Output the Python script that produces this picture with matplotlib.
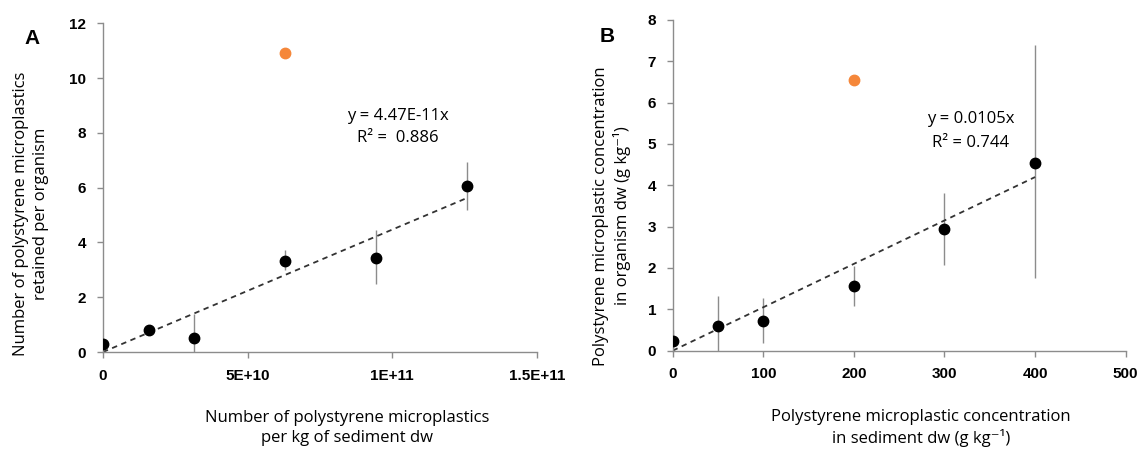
import matplotlib.pyplot as plt

# Panel A: particle number in sediment vs particles retained per organism
a_x = [0, 1.575e10, 3.15e10, 6.3e10, 9.45e10, 1.26e11]
a_y = [0.30, 0.82, 0.52, 3.33, 3.45, 6.07]
a_err_lo = [0.30, 0.0, 0.52, 0.35, 0.98, 0.89]
a_err_hi = [0.0, 0.0, 0.86, 0.41, 1.00, 0.87]
a_out_x = [6.3e10]
a_out_y = [10.9]
a_slope = 4.47e-11

# Panel B: sediment concentration vs organism concentration (g/kg)
b_x = [0, 50, 100, 200, 300, 400]
b_y = [0.23, 0.60, 0.72, 1.56, 2.95, 4.55]
b_err_lo = [0.23, 0.60, 0.54, 0.48, 0.87, 2.80]
b_err_hi = [0.27, 0.72, 0.56, 0.49, 0.86, 2.85]
b_out_x = [200]
b_out_y = [6.54]
b_slope = 0.0105

label_font = ['Open Sans', 'DejaVu Sans']
tick_font = 'Liberation Sans'
gray = '#8c8c8c'
orange = '#f5873a'

fig = plt.figure(figsize=(11.39, 4.49), dpi=100)
axA = fig.add_axes([0.0904, 0.216, 0.381, 0.732])
axB = fig.add_axes([0.5906, 0.219, 0.3977, 0.7365])


def style(ax):
    for s in ['top', 'right']:
        ax.spines[s].set_visible(False)
    for s in ['left', 'bottom']:
        ax.spines[s].set_color(gray)
        ax.spines[s].set_linewidth(1.0)
    ax.tick_params(colors=gray, length=4, width=1.0, labelcolor='black', pad=8)
    for lab in ax.get_xticklabels() + ax.get_yticklabels():
        lab.set_fontfamily(tick_font)
        lab.set_fontweight('bold')
        lab.set_fontsize(11)


def draw(ax, x, y, lo, hi, ox, oy, slope):
    ax.errorbar(x, y, yerr=[lo, hi], fmt='none', ecolor=gray, elinewidth=1.0,
                capsize=0, zorder=2)
    ax.plot(x, y, 'o', color='black', markersize=7.5, zorder=3)
    ax.plot(ox, oy, 'o', color=orange, markersize=7.5, zorder=3)
    fx = [0, max(x)]
    ax.plot(fx, [slope * v for v in fx], linestyle=(0, (3, 2.5)), color='#333333',
            linewidth=1.3, zorder=2.5)


# ---- A
draw(axA, a_x, a_y, a_err_lo, a_err_hi, a_out_x, a_out_y, a_slope)
axA.set_xlim(0, 1.5e11)
axA.set_ylim(0, 12)
axA.set_xticks([0, 5e10, 1e11, 1.5e11])
axA.set_xticklabels(['0', '5E+10', '1E+11', '1.5E+11'])
axA.set_yticks([0, 2, 4, 6, 8, 10, 12])
style(axA)
axA.text(1.02e11, 8.6, 'y = 4.47E-11x', ha='center', va='center',
         fontsize=12, family=label_font)
axA.text(1.02e11, 7.8, 'R² =  0.886', ha='center', va='center',
         fontsize=12, family=label_font)

# ---- B
draw(axB, b_x, b_y, b_err_lo, b_err_hi, b_out_x, b_out_y, b_slope)
axB.set_xlim(0, 500)
axB.set_ylim(0, 8)
axB.set_xticks([0, 100, 200, 300, 400, 500])
axB.set_yticks(range(0, 9))
style(axB)
axB.text(329, 5.61, 'y = 0.0105x', ha='center', va='center',
         fontsize=12, family=label_font)
axB.text(329, 5.03, 'R² = 0.744', ha='center', va='center',
         fontsize=12, family=label_font)

# axis labels and panel letters
W, H = 1139.0, 449.0
fig.text(347 / W, 1 - 428 / H, 'Number of polystyrene microplastics\nper kg of sediment dw',
         ha='center', va='center', fontsize=12, family=label_font, linespacing=1.35)
fig.text(31 / W, 1 - 214 / H, 'Number of polystyrene microplastics\nretained per organism',
         ha='center', va='center', rotation=90, fontsize=12, family=label_font,
         linespacing=1.35)
fig.text(921 / W, 1 - 428 / H, 'Polystyrene microplastic concentration\nin sediment dw (g kg⁻¹)',
         ha='center', va='center', fontsize=12, family=label_font, linespacing=1.35)
fig.text(612 / W, 1 - 216 / H, 'Polystyrene microplastic concentration\nin organism dw (g kg⁻¹)',
         ha='center', va='center', rotation=90, fontsize=12, family=label_font,
         linespacing=1.35)
fig.text(32 / W, 1 - 38 / H, 'A', ha='center', va='center', fontsize=15,
         fontweight='bold', family=tick_font)
fig.text(607 / W, 1 - 36 / H, 'B', ha='center', va='center', fontsize=15,
         fontweight='bold', family=tick_font)

fig.savefig('out.png', dpi=100)
